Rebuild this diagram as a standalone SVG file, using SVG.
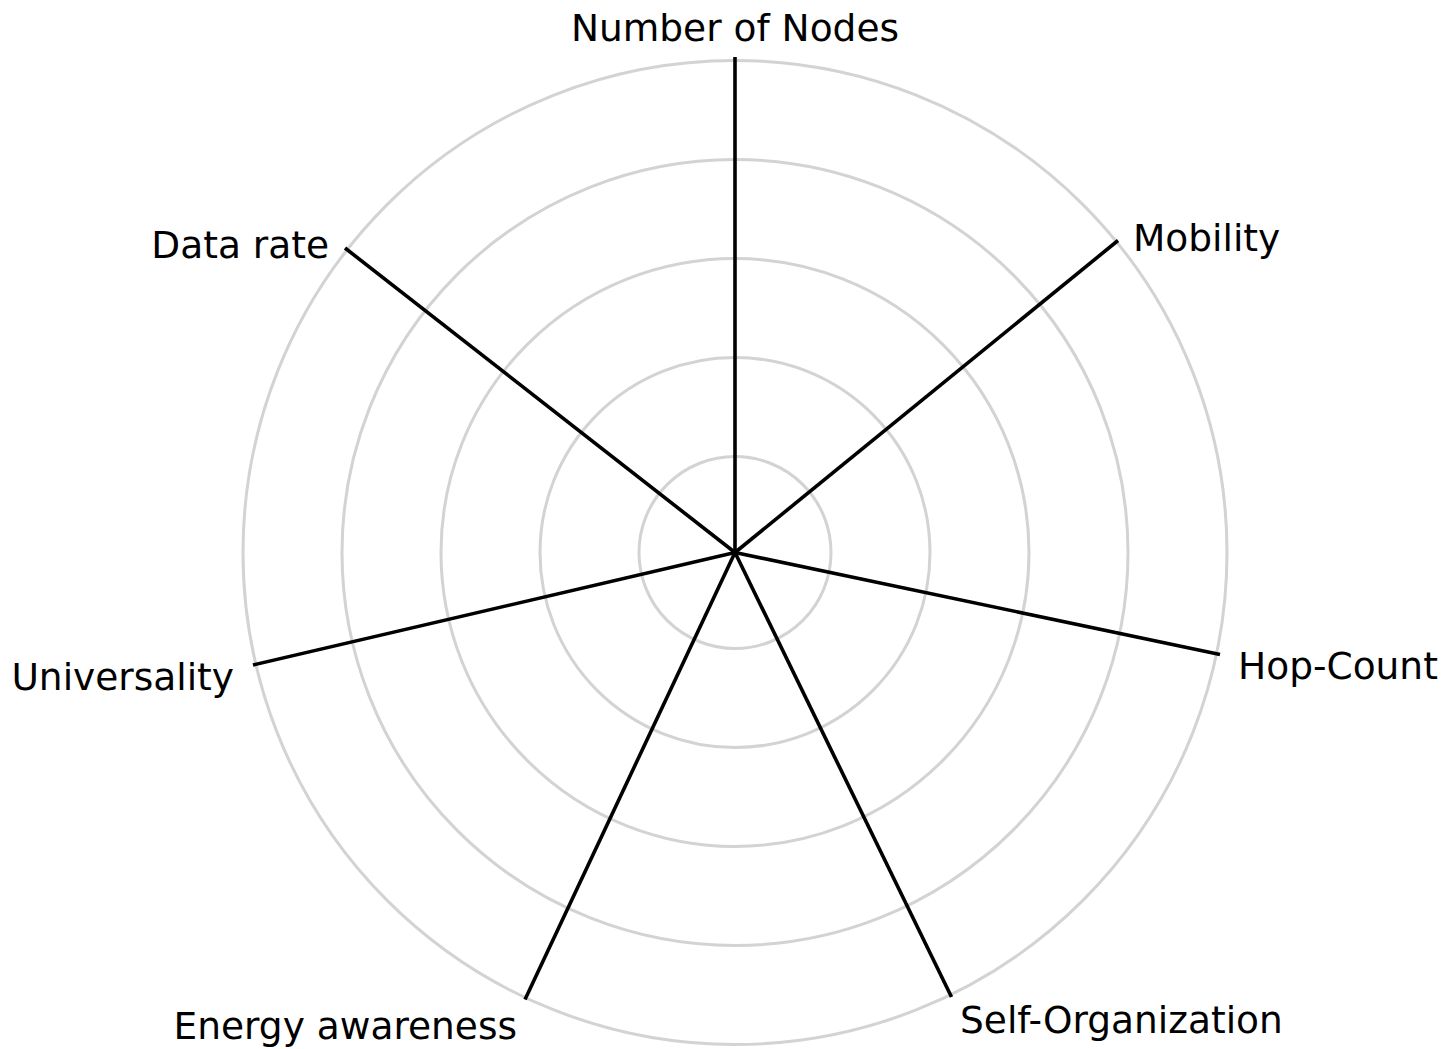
<svg xmlns="http://www.w3.org/2000/svg" width="1447" height="1049" viewBox="0 0 1447 1049">
<style>
.ring{fill:none;stroke:#d3d3d3;stroke-width:3}
.spoke{stroke:#000;stroke-width:3.6;stroke-linecap:butt}
.lbl{font-family:"DejaVu Sans",sans-serif;font-size:37.5px;fill:#000}
</style>
<rect width="1447" height="1049" fill="#fff"/>
<g id="grid">
<circle class="ring" cx="735" cy="552.5" r="96"/>
<circle class="ring" cx="735" cy="552.5" r="195"/>
<circle class="ring" cx="735" cy="552.5" r="294"/>
<circle class="ring" cx="735" cy="552.5" r="393"/>
<circle class="ring" cx="735" cy="552.5" r="492"/>
</g>
<g id="connectors">
<line class="spoke" x1="735" y1="552.5" x2="735" y2="57"/>
<line class="spoke" x1="735" y1="552.5" x2="1118" y2="240.5"/>
<line class="spoke" x1="735" y1="552.5" x2="1220" y2="654.5"/>
<line class="spoke" x1="735" y1="552.5" x2="951.5" y2="997"/>
<line class="spoke" x1="735" y1="552.5" x2="525" y2="999.5"/>
<line class="spoke" x1="735" y1="552.5" x2="253" y2="665"/>
<line class="spoke" x1="735" y1="552.5" x2="345" y2="248"/>
</g>
<g id="node-number-of-nodes"><text class="lbl" x="735" y="41" text-anchor="middle">Number of Nodes</text></g>
<g id="node-mobility"><text class="lbl" x="1133" y="251">Mobility</text></g>
<g id="node-hop-count"><text class="lbl" x="1238" y="679">Hop-Count</text></g>
<g id="node-self-organization"><text class="lbl" x="960" y="1033">Self-Organization</text></g>
<g id="node-energy-awareness"><text class="lbl" x="517" y="1039" text-anchor="end">Energy awareness</text></g>
<g id="node-universality"><text class="lbl" x="234" y="690" text-anchor="end">Universality</text></g>
<g id="node-data-rate"><text class="lbl" x="329" y="258" text-anchor="end">Data rate</text></g>
</svg>
